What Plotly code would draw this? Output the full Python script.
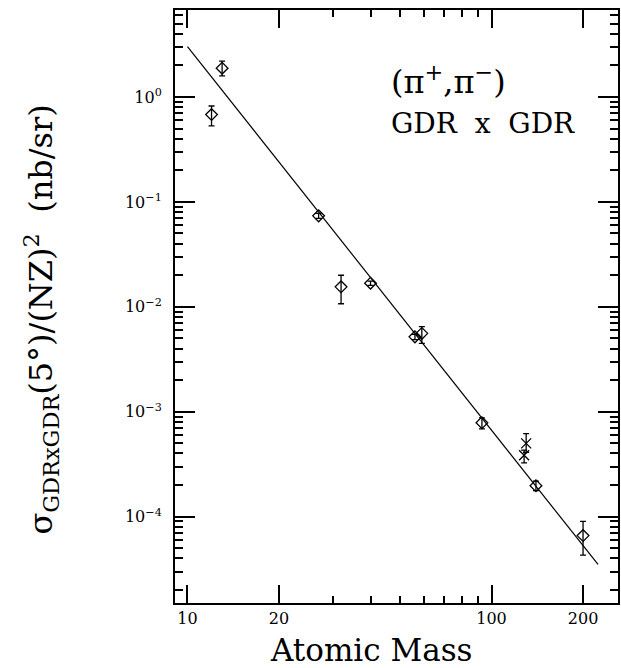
import plotly.graph_objects as go

# Diamond data points (Atomic mass, cross section, error up, error down)
A_dia = [12.0, 13.0, 27.0, 32.0, 40.0, 56.0, 59.0, 93.0, 140.0, 200.0]
sig_dia = [0.68, 1.88, 0.0736, 0.0155, 0.0168, 0.00517, 0.00558, 7.85e-4, 1.97e-4, 6.6e-5]
err_up_dia = [0.14, 0.32, 0.004, 0.0045, 0.0008, 0.0003, 0.0009, 0.9e-4, 0.21e-4, 2.4e-5]
err_dn_dia = [0.15, 0.29, 0.004, 0.0048, 0.0008, 0.0003, 0.0011, 1.0e-4, 0.20e-4, 2.3e-5]

# Cross markers
A_x = [130.0, 128.0]
sig_x = [4.99e-4, 3.85e-4]
err_up_x = [1.2e-4, 0.45e-4]
err_dn_x = [0.9e-4, 0.6e-4]

# Fitted line endpoints
line_A = [10.0, 224.0]
line_sig = [3.02, 3.5e-5]

x_ticks = [10, 20, 100, 200]
x_ticktext = ["10", "20", "100", "200"]
x_minor = [30, 40, 50, 60, 70, 80, 90]
y_ticks = [1, 0.1, 0.01, 0.001, 0.0001]
y_ticktext = ["10<sup>0</sup>", "10<sup>\u22121</sup>", "10<sup>\u22122</sup>",
              "10<sup>\u22123</sup>", "10<sup>\u22124</sup>"]
y_minor = [m * 10.0 ** e for e in range(-5, 1) for m in range(2, 10)]

font_main = "DejaVu Serif"

fig = go.Figure()
fig.add_trace(go.Scatter(x=line_A, y=line_sig, mode="lines",
                         line=dict(color="black", width=1.2), showlegend=False))
fig.add_trace(go.Scatter(
    x=A_dia, y=sig_dia, mode="markers",
    marker=dict(symbol="diamond-open", size=9, color="black", line=dict(width=1.3, color="black")),
    error_y=dict(type="data", array=err_up_dia, arrayminus=err_dn_dia, color="black",
                 thickness=1.3, width=3),
    showlegend=False))
fig.add_trace(go.Scatter(
    x=A_x, y=sig_x, mode="markers",
    marker=dict(symbol="x-thin-open", size=10, color="black", line=dict(width=1.3, color="black")),
    error_y=dict(type="data", array=err_up_x, arrayminus=err_dn_x, color="black",
                 thickness=1.3, width=3),
    showlegend=False))

fig.update_xaxes(type="log", range=[0.959, 2.416], showgrid=False, zeroline=False,
                 showline=True, linecolor="black", linewidth=2, mirror="ticks",
                 ticks="inside", ticklen=18, tickwidth=1.5, tickcolor="black",
                 tickvals=x_ticks, ticktext=x_ticktext,
                 tickfont=dict(family=font_main, size=16, color="black"),
                 minor=dict(ticks="inside", ticklen=7, tickwidth=1.5, tickcolor="black",
                            tickvals=x_minor, showgrid=False))
fig.update_yaxes(type="log", range=[-4.823, 0.829], showgrid=False, zeroline=False,
                 showline=True, linecolor="black", linewidth=2, mirror="ticks",
                 ticks="inside", ticklen=20, tickwidth=1.5, tickcolor="black",
                 tickvals=y_ticks, ticktext=y_ticktext, ticklabelstandoff=8,
                 tickfont=dict(family=font_main, size=16, color="black"),
                 minor=dict(ticks="inside", ticklen=8, tickwidth=1.5, tickcolor="black",
                            tickvals=y_minor, showgrid=False))

W, H = 621, 668
l, r, t, b = 175, 1, 10, 65
pw, ph = W - l - r, H - t - b


def px(xp):
    return (xp - l) / pw


def py(yp):
    return 1 - (yp - t) / ph


fig.add_annotation(x=px(390), y=py(80), xref="paper", yref="paper", showarrow=False,
                   xanchor="left", yanchor="middle",
                   text="(\u03c0<sup>+</sup>,\u03c0<sup>\u2212</sup>)",
                   font=dict(family=font_main, size=32, color="black"))
fig.add_annotation(x=px(390), y=py(123), xref="paper", yref="paper", showarrow=False,
                   xanchor="left", yanchor="middle", text="GDR  x  GDR",
                   font=dict(family=font_main, size=28, color="black"))
fig.add_annotation(x=px(40), y=0.5 * (py(80) + py(560)), xref="paper", yref="paper",
                   showarrow=False, textangle=-90, xanchor="center", yanchor="middle",
                   text="\u03c3<sub>GDRxGDR</sub>(5\u00b0)/(NZ)<sup>2</sup>  (nb/sr)",
                   font=dict(family=font_main, size=32, color="black"))
fig.add_annotation(x=px(372), y=py(650), xref="paper", yref="paper", showarrow=False,
                   xanchor="center", yanchor="middle", text="Atomic Mass",
                   font=dict(family=font_main, size=31, color="black"))

fig.update_layout(width=W, height=H, margin=dict(l=l, r=r, t=t, b=b),
                  paper_bgcolor="white", plot_bgcolor="white")
fig.write_html("out.html")
